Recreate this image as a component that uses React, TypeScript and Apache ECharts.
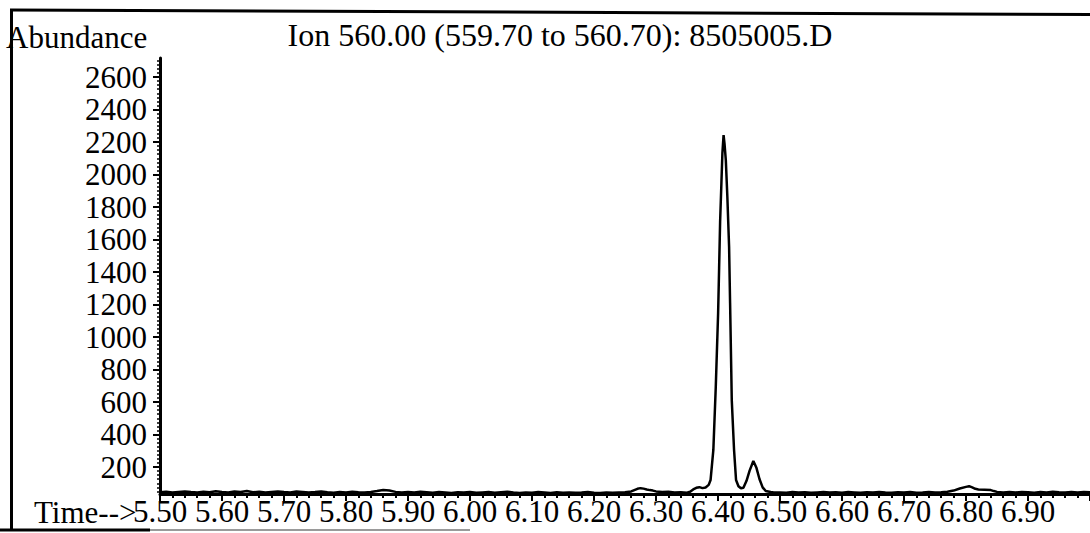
import { useEffect, useRef } from "react";
import * as echarts from "echarts";

const TITLE = "Ion 560.00 (559.70 to 560.70): 8505005.D";
const Y_NAME = "Abundance";
const X_NAME = "Time-->";

const Y_TICK_VALUES = [200, 400, 600, 800, 1000, 1200, 1400, 1600, 1800, 2000, 2200, 2400, 2600];

// Retention time (min)
const TIME = [
  5.5, 5.51, 5.52, 5.53, 5.54, 5.55, 5.56, 5.57, 5.58, 5.59,
  5.6, 5.61, 5.62, 5.63, 5.64, 5.65, 5.66, 5.67, 5.68, 5.69,
  5.7, 5.71, 5.72, 5.73, 5.74, 5.75, 5.76, 5.77, 5.78, 5.79,
  5.8, 5.81, 5.82, 5.83, 5.84, 5.85, 5.86, 5.87, 5.88, 5.89,
  5.9, 5.91, 5.92, 5.93, 5.94, 5.95, 5.96, 5.97, 5.98, 5.99,
  6.0, 6.01, 6.02, 6.03, 6.04, 6.05, 6.06, 6.07, 6.08, 6.09,
  6.1, 6.11, 6.12, 6.13, 6.14, 6.15, 6.16, 6.17, 6.18, 6.19,
  6.2, 6.21, 6.22, 6.23, 6.24, 6.25,
  6.26, 6.265, 6.27, 6.275, 6.28, 6.285, 6.29, 6.295, 6.3, 6.31,
  6.32, 6.33, 6.34, 6.35, 6.355, 6.36, 6.365, 6.37, 6.375, 6.38,
  6.385, 6.388, 6.3925, 6.3964, 6.4002, 6.4018, 6.4034, 6.4055, 6.4071, 6.409,
  6.4105, 6.4126, 6.4151, 6.4179, 6.4195, 6.4222, 6.4259, 6.4291, 6.433, 6.437,
  6.441, 6.446, 6.451, 6.457, 6.462, 6.467, 6.472, 6.477, 6.485, 6.49,
  6.5, 6.51, 6.52, 6.53, 6.54, 6.55, 6.56, 6.57, 6.58, 6.59,
  6.6, 6.61, 6.62, 6.63, 6.64, 6.65, 6.66, 6.67, 6.68, 6.69,
  6.7, 6.71, 6.72, 6.73, 6.74, 6.75, 6.76, 6.77, 6.78, 6.79,
  6.8, 6.805, 6.81, 6.815, 6.82, 6.83, 6.84, 6.845, 6.85, 6.86,
  6.87, 6.88, 6.89, 6.9, 6.91, 6.92, 6.93, 6.94, 6.95, 6.96,
  6.97, 6.98, 6.99, 7.0,
];

// Abundance
const ABUNDANCE = [
  45, 48, 44, 47, 50, 46, 43, 48, 45, 51,
  47, 44, 49, 46, 52, 45, 48, 43, 47, 50,
  46, 44, 49, 47, 43, 46, 50, 45, 42, 47,
  44, 48, 45, 43, 47, 52, 58, 55, 47, 44,
  46, 43, 48, 45, 42, 46, 44, 40, 45, 43,
  47, 42, 44, 46, 41, 45, 48, 43, 40, 44,
  42, 46, 43, 40, 45, 42, 44, 41, 43, 46,
  42, 40, 44, 41, 43, 45,
  50, 58, 66, 70, 67, 62, 58, 55, 50, 46,
  48, 43, 45, 42, 48, 62, 72, 76, 70, 74,
  90, 120, 305, 692, 1148, 1425, 1708, 1948, 2132, 2243,
  2190, 2089, 1862, 1554, 1209, 612, 305, 120, 82, 69,
  72, 115, 178, 237, 195, 125, 75, 52, 46, 43,
  44, 42, 46, 43, 45, 41, 44, 47, 43, 45,
  42, 46, 44, 41, 45, 43, 47, 44, 42, 45,
  43, 46, 42, 44, 47, 43, 45, 48, 55, 68,
  78, 82, 75, 66, 62, 60, 58, 52, 47, 44,
  46, 43, 47, 45, 42, 46, 44, 48, 45, 43,
  47, 44, 46, 45,
];

const FONT = "'Liberation Serif', 'Times New Roman', serif";
const FS = 31;

function buildMinorY(): number[] {
  const out: number[] = [];
  for (let v = 50; v <= 2700; v += 25) out.push(v);
  return out;
}

export default function App() {
  const ref = useRef<HTMLDivElement>(null);

  useEffect(() => {
    if (!ref.current) return;
    const chart = echarts.init(ref.current, null, { renderer: "svg" });
    const data = TIME.map((t, i) => [t, ABUNDANCE[i]]);
    const yMin = 34;
    const yMax = 2717;

    chart.setOption({
      animation: false,
      backgroundColor: "#ffffff",
      grid: { left: 160, top: 58, width: 931, height: 436, containLabel: false },
      xAxis: [
        {
          type: "value",
          min: 5.5,
          max: 7.0,
          interval: 0.1,
          axisLine: { show: true, onZero: false, lineStyle: { color: "#000", width: 3 } },
          axisTick: { show: true, length: 7, lineStyle: { color: "#000", width: 2 } },
          minorTick: { show: true, splitNumber: 5, length: 4, lineStyle: { color: "#000", width: 2 } },
          splitLine: { show: false },
          minorSplitLine: { show: false },
          axisLabel: {
            margin: 2,
            fontSize: FS,
            fontFamily: FONT,
            color: "#000",
            showMaxLabel: false,
            showMinLabel: true,
            formatter: (v: number) => v.toFixed(2),
          },
        },
      ],
      yAxis: [
        {
          type: "value",
          min: yMin,
          max: yMax,
          position: "left",
          axisLine: { show: true, onZero: false, lineStyle: { color: "#000", width: 3 } },
          axisTick: { show: true, length: 7, customValues: Y_TICK_VALUES, lineStyle: { color: "#000", width: 2 } },
          splitLine: { show: false },
          axisLabel: {
            customValues: Y_TICK_VALUES,
            margin: 13,
            padding: [10, 0, 0, 0],
            fontSize: FS,
            fontFamily: FONT,
            color: "#000",
            formatter: (v: number) => String(Math.round(v)),
          },
        },
        {
          type: "value",
          min: yMin,
          max: yMax,
          position: "left",
          axisLine: { show: false },
          axisTick: { show: true, length: 3, customValues: buildMinorY(), lineStyle: { color: "#000", width: 1.5 } },
          axisLabel: { show: false },
          splitLine: { show: false },
        },
      ],
      series: [
        {
          type: "line",
          xAxisIndex: 0,
          yAxisIndex: 0,
          data,
          showSymbol: false,
          symbol: "none",
          lineStyle: { color: "#000", width: 2.5 },
          clip: true,
          z: 3,
        },
      ],
      graphic: [
        { type: "line", shape: { x1: 11.5, y1: 9, x2: 11.5, y2: 531 }, style: { stroke: "#000", lineWidth: 3 }, z: 1 },
        { type: "line", shape: { x1: 10, y1: 10, x2: 1090, y2: 14.5 }, style: { stroke: "#000", lineWidth: 3 }, z: 1 },
        { type: "line", shape: { x1: 0, y1: 530, x2: 150, y2: 530 }, style: { stroke: "#000", lineWidth: 3 }, z: 1 },
        { type: "line", shape: { x1: 150, y1: 530, x2: 470, y2: 530 }, style: { stroke: "#9a9a9a", lineWidth: 2 }, z: 1 },
        {
          type: "text",
          x: 6,
          y: 37,
          z: 5,
          style: { text: Y_NAME, font: `${FS}px ${FONT}`, fill: "#000", align: "left", verticalAlign: "middle" },
        },
        {
          type: "text",
          x: 560,
          y: 35,
          z: 5,
          style: { text: TITLE, font: `32px ${FONT}`, fill: "#000", align: "center", verticalAlign: "middle" },
        },
        {
          type: "text",
          x: 34,
          y: 512,
          z: 5,
          style: { text: X_NAME, font: `${FS}px ${FONT}`, fill: "#000", align: "left", verticalAlign: "middle" },
        },
      ],
    });

    return () => chart.dispose();
  }, []);

  return (
    <div
      ref={ref}
      style={{ position: "absolute", left: 0, top: 0, width: 1090, height: 533, background: "#fff" }}
    />
  );
}
